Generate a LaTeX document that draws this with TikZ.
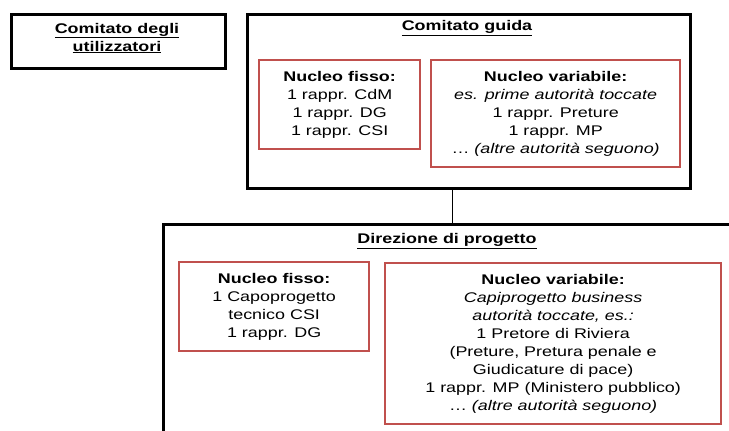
\documentclass[tikz,border=0pt]{standalone}
\usepackage{fontspec}
\setmainfont[FakeStretch=1.28]{Liberation Sans}
\usetikzlibrary{positioning}
\definecolor{boxred}{RGB}{192,80,77}
\tikzset{>=latex}
\tikzset{
  outerbox/.style={draw=black,line width=2.8pt,anchor=north west,inner sep=0pt},
  nucleo/.style={draw=boxred,line width=2.3pt,anchor=north west,align=center,inner xsep=4pt,inner ysep=11pt},
  boxtitle/.style={font=\bfseries,align=center,inner sep=1pt}
}

\begin{document}
\fontsize{14}{18}\selectfont
\begin{tikzpicture}[x=1pt,y=-1pt]
\clip (0,0) rectangle (729,431);
% comitati in alto
\node[outerbox,minimum width=214,minimum height=54] (utiliz) at (10,13) {};
\node[boxtitle] (utilizT) at (117,38) {\underline{Comitato degli}\\\underline{utilizzatori}};
\node[outerbox,minimum width=443,minimum height=174] (guida) at (246,13) {};
\node[boxtitle] (guidaT) at (467,28) {\underline{Comitato guida}};
\node[nucleo,minimum width=161] (gfisso) at (258,59) {\textbf{Nucleo fisso:}\\1 rappr. CdM\\1 rappr. DG\\1 rappr. CSI};
\node[nucleo,minimum width=249] (gvar) at (430,59) {\textbf{Nucleo variabile:}\\\textit{es. prime autorità toccate}\\1 rappr. Preture\\1 rappr. MP\\…\ \textit{(altre autorità seguono)}};
% direzione
\node[outerbox,minimum width=578,minimum height=260] (direz) at (162,223) {};
\node[boxtitle] (direzT) at (447,241) {\underline{Direzione di progetto}};
\node[nucleo,minimum width=190] (dfisso) at (178,261) {\textbf{Nucleo fisso:}\\1 Capoprogetto\\tecnico CSI\\1 rappr. DG};
\node[nucleo,minimum width=336] (dvar) at (384,262) {\textbf{Nucleo variabile:}\\\textit{Capiprogetto business}\\\textit{autorità toccate, es.:}\\1 Pretore di Riviera\\(Preture, Pretura penale e\\Giudicature di pace)\\1 rappr. MP (Ministero pubblico)\\…\ \textit{(altre autorità seguono)}};
\draw[line width=1pt] (direz.north) -- (direz.north |- guida.south);
\end{tikzpicture}
\end{document}
